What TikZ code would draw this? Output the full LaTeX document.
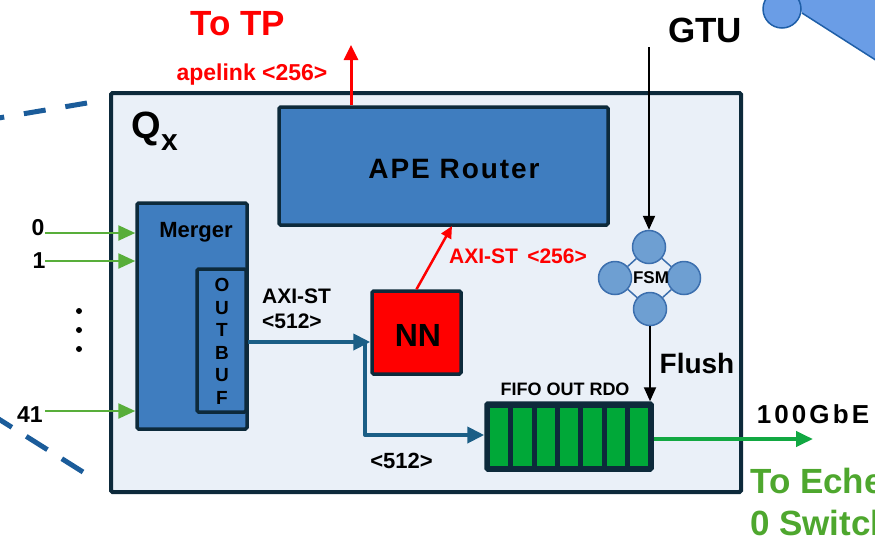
\documentclass[tikz,border=0pt]{standalone}
\usepackage{fontspec}
\setmainfont{Liberation Sans}
\newfontfamily\spacedA[LetterSpace=7]{Liberation Sans}
\newfontfamily\spacedB[LetterSpace=12]{Liberation Sans}
\usetikzlibrary{arrows.meta}
\definecolor{dark}{HTML}{0D2A3B}
\definecolor{outerfill}{HTML}{EAF0F8}
\definecolor{apeblue}{HTML}{3F7DBF}
\definecolor{nnred}{HTML}{FF0000}
\definecolor{fifogreen}{HTML}{00A838}
\definecolor{arrblue}{HTML}{1B5E86}
\definecolor{ingreen}{HTML}{58AE3A}
\definecolor{outgreen}{HTML}{12A842}
\definecolor{txtgreen}{HTML}{4EA72E}
\definecolor{fsmfill}{HTML}{6E9FD2}
\definecolor{fsmedge}{HTML}{3C6FAE}
\definecolor{dashblue}{HTML}{1B5C9A}
\definecolor{trfill}{HTML}{6A9DE6}
\definecolor{tredge}{HTML}{1F5FA8}
\newcommand\fsz[1]{\fontsize{#1}{#1}\selectfont\bfseries}
\begin{document}
\begin{tikzpicture}[x=1pt,y=-1pt,
  box/.style={draw=dark, line width=3.5, rounded corners=1.5, inner sep=0, anchor=center},
  lbl/.style={inner sep=0, anchor=base, text=black},
  fsmc/.style={circle, draw=fsmedge, line width=1.5, fill=fsmfill, minimum size=33, inner sep=0},
  redarr/.style={draw=nnred, line width=3, -{Triangle[length=15pt,width=14pt]}},
  redarrs/.style={draw=nnred, line width=2.5, -{Triangle[length=12pt,width=11pt]}},
  blkarr/.style={draw=black, line width=2, -{Triangle[length=14pt,width=12pt]}},
  bluearr/.style={draw=arrblue, line width=4, line join=round, -{Triangle[length=17pt,width=16pt]}},
  inarr/.style={draw=ingreen, line width=2.5, -{Triangle[length=17pt,width=15pt]}},
  outarr/.style={draw=outgreen, line width=4, -{Triangle[length=17pt,width=15pt]}},
  dashln/.style={draw=dashblue, line width=5}
]
\clip (0,0) rectangle (875,547);
% dashed lines on the left
\coordinate (d1a) at (87,103);
\coordinate (d1b) at (-25,122);
\draw[dashln, dash pattern=on 22 off 20] (d1a) -- (d1b);
\coordinate (d2a) at (83,472);
\coordinate (d2b) at (-30,401);
\draw[dashln, dash pattern=on 25 off 17] (d2a) -- (d2b);
% top right shape
\coordinate (tra) at (802,13);
\coordinate (trb) at (885,66);
\fill[trfill] (796,-5) -- (tra) -- (trb) -- (885,-5) -- cycle;
\draw[tredge, line width=1.5] (tra) -- (trb);
\node[circle, draw=tredge, line width=1.5, fill=trfill, minimum size=38, inner sep=0] (tr) at (782,9) {};
% main box
\node[box, fill=outerfill, line width=4, minimum width=630, minimum height=399] (qx) at (426,292.5) {};
\node[lbl, anchor=base west, font=\fsz{38}] (qq) at (131,138) {Q};
\node[lbl, anchor=base west, font=\fsz{30}] (qs) at (161,150) {x};
% APE router
\node[box, fill=apeblue, minimum width=329, minimum height=118] (ape) at (443.5,166) {};
\node[lbl, font=\fsz{28}\spacedA] (apel) at (454,178) {APE Router};
% merger
\node[box, fill=apeblue, minimum width=110, minimum height=226] (merger) at (192,316) {};
\node[lbl, font=\fsz{22}] (mergl) at (196,237) {Merger};
\node[box, fill=apeblue, minimum width=49, minimum height=143] (outbuf) at (221.5,340.5) {};
\foreach \ch/\yy [count=\n] in {O/285,U/308,T/330,B/353,U/375,F/398}
  \node[inner sep=0, font=\fsz{19}] (ob\n) at (222,\yy) {\ch};
% NN
\node[box, fill=nnred, minimum width=89, minimum height=83] (nn) at (416.5,332.5) {};
\node[inner sep=0, font=\fsz{32}] (nnl) at (418,335) {NN};
% FIFO
\node[box, fill=dark, minimum width=166, minimum height=67] (fifo) at (569,436.5) {};
\foreach \i in {0,...,6}
  \node[fill=fifogreen, minimum width=18.3, minimum height=58, inner sep=0] (cell\i) at ({499.15+23.3*\i},437) {};
\node[lbl, font=\fsz{18}] (fifol) at (565,395) {FIFO OUT RDO};
% FSM
\node[fsmc] (ft) at (649,247) {};
\node[fsmc] (fl) at (615,278) {};
\node[fsmc] (fr) at (684,278) {};
\node[fsmc] (fb) at (650,309) {};
\draw[fsmedge, line width=1.5] (ft) -- (fl);
\draw[fsmedge, line width=1.5] (fl) -- (fb);
\draw[fsmedge, line width=1.5] (fb) -- (fr);
\draw[fsmedge, line width=1.5] (fr) -- (ft);
\node[inner sep=0, font=\fsz{17}] (fsml) at (651,278) {FSM};
% GTU
\node[lbl, font=\fsz{35}] (gtul) at (705,42) {GTU};
\coordinate (gtu0) at (649,47);
\draw[blkarr] (gtu0) -- (ft);
% Flush
\draw[blkarr] (fb) -- (fb |- fifo.north);
\node[lbl, font=\fsz{28}] (flushl) at (697,373) {Flush};
% To TP
\node[lbl, text=nnred, font=\fsz{35}] (tpl) at (238,35) {To TP};
\node[lbl, text=nnred, font=\fsz{23}] (apelk) at (252,80) {apelink <256>};
\coordinate (tp) at (351,45);
\draw[redarr] (ape.north -| tp) -- (tp);
% NN -> APE
\coordinate (a1) at (452,226);
\draw[redarrs] (nn.north) -- (a1);
\node[lbl, text=nnred, font=\fsz{21}] (axi256) at (518,263) {AXI-ST \,<256>};
% blue arrows
\coordinate (j) at (365,342);
\coordinate (k) at (365,435);
\draw[bluearr] (outbuf.east |- j) -- (nn.west |- j);
\draw[bluearr] (j) -- (k) -- (k -| fifo.west);
\node[lbl, anchor=base west, font=\fsz{21}] (axi1) at (262,303) {AXI-ST};
\node[lbl, anchor=base west, font=\fsz{21}] (axi2) at (262,328) {<512>};
\node[lbl, font=\fsz{22}] (b512) at (401.5,468) {<512>};
% output
\coordinate (ge) at (813,439);
\draw[outarr] (fifo.east |- ge) -- (ge);
\node[lbl, font=\fsz{26}\spacedB] (gbe) at (813,423) {100GbE};
\node[lbl, anchor=base west, text=txtgreen, font=\fsz{35}] (ech1) at (750,493) {To Echelon};
\node[lbl, anchor=base west, text=txtgreen, font=\fsz{35}] (ech2) at (750,535) {0 Switch};
% inputs
\coordinate (i0) at (45,233);
\coordinate (i1) at (45,261);
\coordinate (i41) at (45,411);
\draw[inarr] (i0) -- (i0 -| merger.west);
\draw[inarr] (i1) -- (i1 -| merger.west);
\draw[inarr] (i41) -- (i41 -| merger.west);
\node[lbl, font=\fsz{23}] (n0) at (38,235) {0};
\node[lbl, font=\fsz{23}] (n1) at (39,268) {1};
\node[lbl, font=\fsz{23}] (n41) at (30,422) {41};
\fill[black] (79,311) circle (3) (79,330) circle (3) (79,349) circle (3);
\end{tikzpicture}
\end{document}
